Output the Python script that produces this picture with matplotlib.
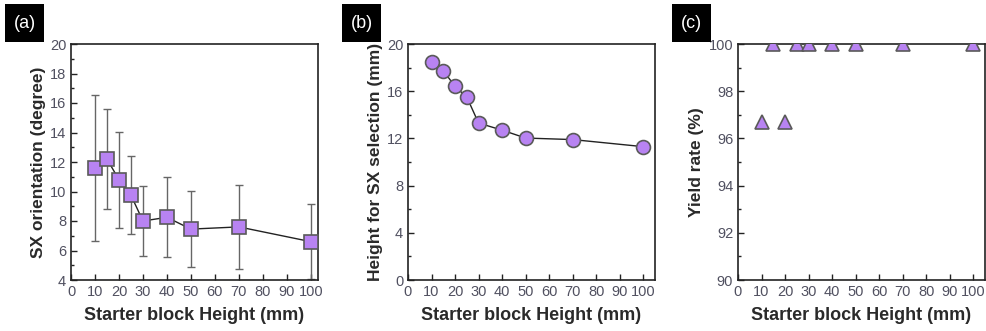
import matplotlib
matplotlib.use("Agg")
import matplotlib.pyplot as plt
from matplotlib.ticker import MultipleLocator
from matplotlib.patches import Rectangle

plt.rcParams['font.family'] = ['Liberation Sans', 'DejaVu Sans']

# Data
height_a = [10, 15, 20, 25, 30, 40, 50, 70, 100]
orient = [11.6, 12.2, 10.8, 9.75, 8.0, 8.25, 7.45, 7.6, 6.6]
orient_err = [4.95, 3.4, 3.25, 2.65, 2.4, 2.7, 2.6, 2.85, 2.55]

height_b = [10, 15, 20, 25, 30, 40, 50, 70, 100]
sx_height = [18.5, 17.75, 16.4, 15.5, 13.3, 12.7, 12.03, 11.9, 11.3]

height_c = [10, 15, 20, 25, 30, 40, 50, 70, 100]
yield_rate = [96.7, 100, 96.7, 100, 100, 100, 100, 100, 100]

xlabel = "Starter block Height (mm)"
ylabels = ["SX orientation (degree)", "Height for SX selection (mm)", "Yield rate (%)"]
panel_tags = ["(a)", "(b)", "(c)"]

FILL = '#B883F2'
EDGE = '#5a5a5a'
TICKC = '#505060'
LABC = '#2a2a2a'

fig = plt.figure(figsize=(9.86, 3.31), dpi=100)
W, H = 986, 331
lefts = [71, 408, 738]
axw = 247
top, bottom = 44, 280

axes = []
for l in lefts:
    ax = fig.add_axes([l / W, 1 - bottom / H, axw / W, (bottom - top) / H])
    axes.append(ax)

# (a)
ax = axes[0]
ax.errorbar(height_a, orient, yerr=orient_err, fmt='none', ecolor='#666666',
            elinewidth=1.0, capsize=3, capthick=1.0, zorder=2)
ax.plot(height_a, orient, '-', color='#222222', lw=1.0, zorder=3)
ax.plot(height_a, orient, 's', ms=10, mfc=FILL, mec=EDGE, mew=1.2, ls='none', zorder=4)
ax.set_xlim(0, 103)
ax.set_ylim(4, 20)
ax.yaxis.set_major_locator(MultipleLocator(2))
ax.yaxis.set_minor_locator(MultipleLocator(1))

# (b)
ax = axes[1]
ax.plot(height_b, sx_height, '-', color='#222222', lw=1.0, zorder=3)
ax.plot(height_b, sx_height, 'o', ms=10, mfc=FILL, mec=EDGE, mew=1.2, ls='none', zorder=4)
ax.set_xlim(0, 105)
ax.set_ylim(0, 20)
ax.yaxis.set_major_locator(MultipleLocator(4))
ax.yaxis.set_minor_locator(MultipleLocator(2))

# (c)
ax = axes[2]
ax.plot(height_c, yield_rate, '^', ms=10, mfc=FILL, mec=EDGE, mew=1.2, ls='none', zorder=4)
ax.set_xlim(0, 105)
ax.set_ylim(90, 100)
ax.yaxis.set_major_locator(MultipleLocator(2))
ax.yaxis.set_minor_locator(MultipleLocator(1))

for ax, yl, l, tag in zip(axes, ylabels, lefts, panel_tags):
    ax.xaxis.set_major_locator(MultipleLocator(10))
    ax.tick_params(axis='both', which='both', direction='in', top=False, right=False,
                   labelcolor=TICKC, labelsize=10.5, color='#222222')
    ax.tick_params(axis='both', which='major', length=4, width=1)
    ax.tick_params(axis='y', which='minor', length=2.5, width=1)
    ax.tick_params(axis='x', which='minor', length=0)
    for s in ax.spines.values():
        s.set_linewidth(1.2)
        s.set_color('#222222')
    ax.set_xlabel(xlabel, fontsize=13, fontweight='bold', color=LABC, labelpad=6)
    ax.set_ylabel(yl, fontsize=12.5, fontweight='bold', color=LABC, labelpad=3)
    # panel tag box
    bx = (l - 66) / W
    fig.patches.append(Rectangle((bx, 1 - 42 / H), 39 / W, 38 / H, transform=fig.transFigure,
                                 facecolor='black', edgecolor='none', zorder=5))
    fig.text(bx + 19.5 / W, 1 - 23 / H, tag, color='white', fontsize=13,
             ha='center', va='center', zorder=6)

fig.savefig('out.png', dpi=100)
